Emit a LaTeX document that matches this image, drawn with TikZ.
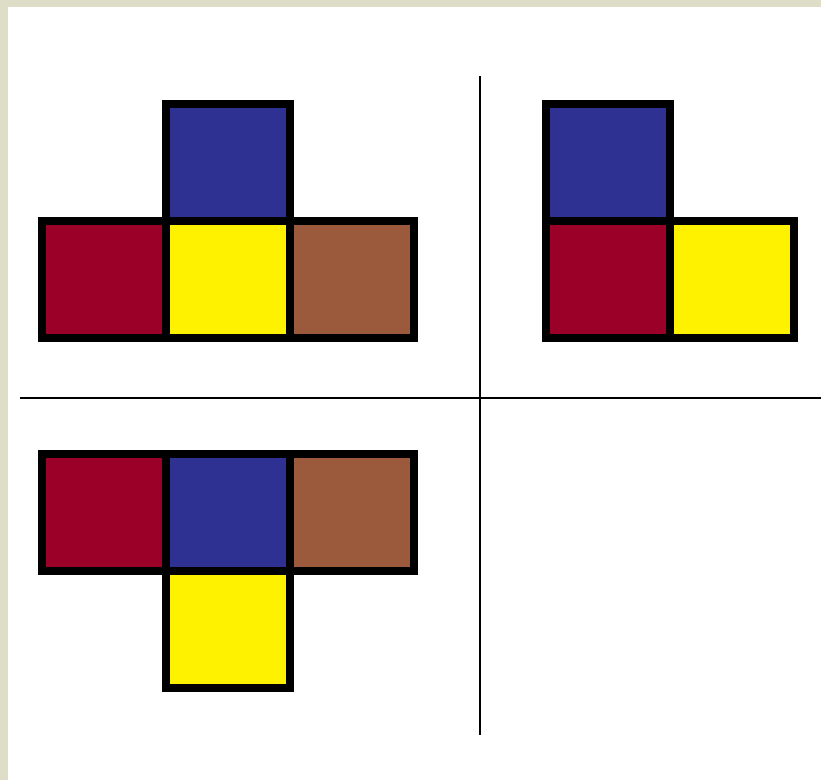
\documentclass[tikz,border=0pt]{standalone}
\usetikzlibrary{positioning}

\definecolor{framebeige}{RGB}{222,221,200}
\definecolor{netred}{RGB}{155,0,40}
\definecolor{netblue}{RGB}{46,49,146}
\definecolor{netyellow}{RGB}{255,242,0}
\definecolor{netbrown}{RGB}{156,90,60}

\begin{document}
\begin{tikzpicture}[x=0.025cm, y=-0.025cm,
    cell/.style={draw=black, line width=0.2cm, minimum width=3.1cm,
      minimum height=2.925cm, inner sep=0pt, outer sep=0pt}]
    \useasboundingbox (0,0) rectangle (821,780);

    % Draw frame
    \fill[white] (0,0) rectangle (821,780);
    \fill[framebeige] (0,0) rectangle (8,780);
    \shade[left color=framebeige, middle color=white, right color=framebeige] (8,0) rectangle (821,7);

    % Draw dividing lines
    \coordinate (hl) at (20,398);
    \coordinate (hr) at (821,398);
    \coordinate (vt) at (480,76);
    \coordinate (vb) at (480,735);
    \draw[line width=0.05cm] (hl) -- (hr);
    \draw[line width=0.05cm] (vt) -- (vb);

    % Draw net 1 (top left)
    \node[cell, fill=netred] (A1) at (104,279.5) {};
    \node[cell, fill=netyellow, right=0pt of A1] (A2) {};
    \node[cell, fill=netbrown, right=0pt of A2] (A3) {};
    \node[cell, fill=netblue, above=0pt of A2] (A4) {};

    % Draw net 2 (top right)
    \node[cell, fill=netred] (B1) at (608,279.5) {};
    \node[cell, fill=netyellow, right=0pt of B1] (B2) {};
    \node[cell, fill=netblue, above=0pt of B1] (B3) {};

    % Draw net 3 (bottom left)
    \node[cell, fill=netred] (C1) at (104,512.5) {};
    \node[cell, fill=netblue, right=0pt of C1] (C2) {};
    \node[cell, fill=netbrown, right=0pt of C2] (C3) {};
    \node[cell, fill=netyellow, below=0pt of C2] (C4) {};
\end{tikzpicture}
\end{document}
